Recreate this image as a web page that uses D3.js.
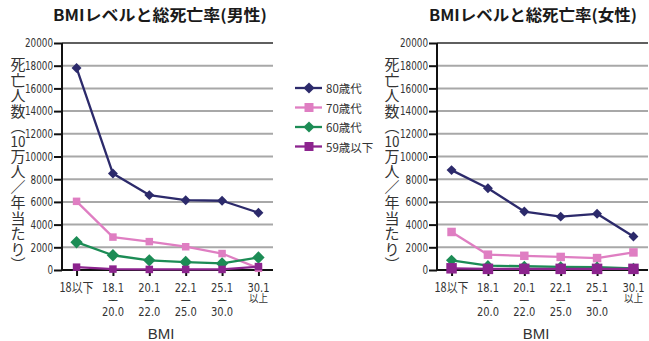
<!DOCTYPE html>
<html>
<head>
<meta charset="utf-8">
<script src="https://cdn.jsdelivr.net/npm/d3@7"></script>
<style>
  html, body { margin: 0; padding: 0; background: #fff; }
  svg { display: block; }
</style>
</head>
<body>
<svg id="chart" width="649" height="341"></svg>
<script>
// BMI categories (x axis)
const categories = ["18以下", "18.1–20.0", "20.1–22.0", "22.1–25.0", "25.1–30.0", "30.1以上"];
// Printed tick label lines for each category
const categoryLines = [["18以下"], ["18.1", "—", "20.0"], ["20.1", "—", "22.0"], ["22.1", "—", "25.0"], ["25.1", "—", "30.0"], ["30.1", "以上"]];
// Age groups (series)
const seriesNames = ["80歳代", "70歳代", "60歳代", "59歳以下"];
const seriesColors = ["#2c2a6b", "#df7ec2", "#1c8c55", "#8c248e"];
const seriesShapes = ["diamond", "square", "diamond", "square"];

// Deaths per 100,000 persons per year — men
const male80 = [17800, 8500, 6600, 6150, 6100, 5050];
const male70 = [6050, 2900, 2500, 2050, 1450, 150];
const male60 = [2450, 1300, 850, 700, 580, 1100];
const male59 = [250, 80, 50, 50, 50, 300];
// Deaths per 100,000 persons per year — women
const female80 = [8800, 7200, 5150, 4700, 4950, 2950];
const female70 = [3350, 1350, 1250, 1150, 1050, 1550];
const female60 = [850, 380, 330, 280, 250, 150];
const female59 = [150, 100, 100, 100, 100, 100];

// Y axis ticks
const yTicks = [0, 2000, 4000, 6000, 8000, 10000, 12000, 14000, 16000, 18000, 20000];
const yTitleGlyphs = ["死", "亡", "人", "数", "︵", "10", "万", "人", "／", "年", "当", "た", "り", "︶"];

const titles = ["BMIレベルと総死亡率(男性)", "BMIレベルと総死亡率(女性)"];

const narrow = "'Liberation Sans Narrow', 'DejaVu Sans Condensed', 'Liberation Sans', sans-serif";
const jp = "'Noto Sans CJK JP', 'Noto Sans', sans-serif";

const svg = d3.select("#chart");

function diamondPath(r) {
  return `M0,${-r}L${r},0L0,${r}L${-r},0Z`;
}
function squarePath(h) {
  return `M${-h},${-h}H${h}V${h}H${-h}Z`;
}
function markerPath(shape, s) {
  return shape === "diamond" ? diamondPath(s * 0.62) : squarePath(s * 0.5);
}
// width of a digit string set in a condensed face
function condensedWidth(t, perChar) {
  let w = 0;
  for (const ch of t) w += ch === "." ? perChar * 0.5 : perChar;
  return w;
}

function drawPanel(cfg) {
  const g = svg.append("g");
  const x0 = cfg.axisX, x1 = cfg.axisX + 211;
  const y = d3.scaleLinear().domain([0, 20000]).range([270, 43]);
  const x = d3.scalePoint().domain(categories).range([x0, x1]).padding(0.4);

  // title
  g.append("text")
    .attr("x", cfg.titleX).attr("y", 21)
    .attr("text-anchor", "middle")
    .attr("font-family", jp).attr("font-weight", "bold")
    .attr("font-size", 15.5).attr("fill", "#1a1a1a")
    .attr("textLength", cfg.titleW).attr("lengthAdjust", "spacingAndGlyphs")
    .text(cfg.title);

  // horizontal gridlines
  g.append("g").selectAll("line").data(yTicks.filter(d => d > 0)).join("line")
    .attr("x1", x0).attr("x2", x1)
    .attr("y1", d => y(d)).attr("y2", d => y(d))
    .attr("stroke", d => d === 20000 ? "#2a2a2a" : "#a8a8a8")
    .attr("stroke-width", d => d === 20000 ? 1.5 : 2);

  // y axis
  const yAxis = g.append("g").attr("transform", `translate(${x0},0)`)
    .call(d3.axisLeft(y).tickValues(yTicks).tickSize(8).tickPadding(1).tickFormat(d3.format("d")));
  yAxis.select(".domain").attr("stroke", "#111").attr("stroke-width", 2).attr("d", `M0,${y(20000)}V${y(0)}`);
  yAxis.selectAll(".tick line").attr("stroke", "#111").attr("stroke-width", 2);
  yAxis.selectAll(".tick text").attr("font-family", narrow).attr("font-size", 12).attr("fill", "#333")
    .each(function () {
      const t = d3.select(this).text();
      d3.select(this).attr("textLength", condensedWidth(t, 5.6)).attr("lengthAdjust", "spacingAndGlyphs");
    });

  // x axis
  const xAxis = g.append("g").attr("transform", `translate(0,${y(0)})`)
    .call(d3.axisBottom(x).tickSize(6).tickFormat(""));
  xAxis.select(".domain").attr("stroke", "#111").attr("stroke-width", 2).attr("d", `M${x0},0H${x1}`);
  xAxis.selectAll(".tick line").attr("stroke", "#111").attr("stroke-width", 2);

  // x tick labels: one text per category, one tspan per printed line
  categories.forEach((c, i) => {
    const lines = categoryLines[i];
    const txt = g.append("text")
      .attr("text-anchor", "middle")
      .attr("font-family", narrow)
      .attr("font-size", 13)
      .attr("fill", "#333");
    lines.forEach((t, j) => {
      const ty = lines.length === 2 && j === 1 ? 302 : 292 + j * 12;
      const ts = txt.append("tspan").attr("x", x(c)).attr("y", ty).text(t);
      if (t === "18以下") ts.attr("font-family", jp).attr("textLength", 34).attr("lengthAdjust", "spacingAndGlyphs");
      else if (t === "以上") ts.attr("font-family", jp).attr("font-size", 10.5)
        .attr("textLength", 19).attr("lengthAdjust", "spacingAndGlyphs");
      else if (t === "—") ts.attr("textLength", 10).attr("lengthAdjust", "spacingAndGlyphs");
      else ts.attr("textLength", condensedWidth(t, 6.3)).attr("lengthAdjust", "spacingAndGlyphs");
    });
  });

  // x axis title
  g.append("text")
    .attr("x", cfg.bmiX).attr("y", 339)
    .attr("text-anchor", "middle")
    .attr("font-family", "'Liberation Sans', Arial, sans-serif")
    .attr("font-size", 15).attr("fill", "#333")
    .text("BMI");

  // y axis title, set vertically glyph by glyph inside one text element
  const yTitle = g.append("text")
    .attr("text-anchor", "middle")
    .attr("dominant-baseline", "central")
    .attr("font-family", jp)
    .attr("font-size", 15)
    .attr("fill", "#333");
  let cy = 55.5;
  yTitleGlyphs.forEach(t => {
    const adv = t === "10" ? 14 : 15.5;
    const ts = yTitle.append("tspan")
      .attr("x", cfg.yTitleX).attr("y", cy + adv / 2)
      .attr("dominant-baseline", "central")
      .text(t);
    if (t === "10") ts.attr("textLength", 15).attr("lengthAdjust", "spacingAndGlyphs");
    cy += adv;
  });

  // series lines and markers (youngest drawn last so it sits on top)
  const line = d3.line().x((d, i) => x(categories[i])).y(d => y(d));
  cfg.series.forEach((vals, k) => {
    g.append("path")
      .datum(vals)
      .attr("d", line)
      .attr("fill", "none")
      .attr("stroke", seriesColors[k])
      .attr("stroke-width", 2.3)
      .attr("stroke-linejoin", "round");
    g.append("g").selectAll("path").data(vals).join("path")
      .attr("transform", (d, i) => `translate(${x(categories[i])},${y(d)})`)
      .attr("d", markerPath(seriesShapes[k], cfg.markerSize[k]))
      .attr("fill", seriesColors[k]);
  });
}

drawPanel({
  title: titles[0], titleX: 160, titleW: 214, axisX: 62, bmiX: 161, yTitleX: 18,
  series: [male80, male70, male60, male59],
  markerSize: [8, 7.5, 10, 7.5]
});
drawPanel({
  title: titles[1], titleX: 533, titleW: 208, axisX: 437, bmiX: 536, yTitleX: 392,
  series: [female80, female70, female60, female59],
  markerSize: [8, 8.5, 9, 10.5]
});

// legend
const legend = svg.append("g");
seriesNames.forEach((name, k) => {
  const ly = 88 + k * 19.5;
  legend.append("line")
    .attr("x1", 295).attr("x2", 322).attr("y1", ly).attr("y2", ly)
    .attr("stroke", seriesColors[k]).attr("stroke-width", 2.3);
  legend.append("path")
    .attr("transform", `translate(309,${ly})`)
    .attr("d", markerPath(seriesShapes[k], 9))
    .attr("fill", seriesColors[k]);
  legend.append("text")
    .attr("x", 326).attr("y", ly).attr("dominant-baseline", "central")
    .attr("font-family", jp).attr("font-size", 11.5).attr("fill", "#333")
    .text(name);
});
</script>
</body>
</html>
